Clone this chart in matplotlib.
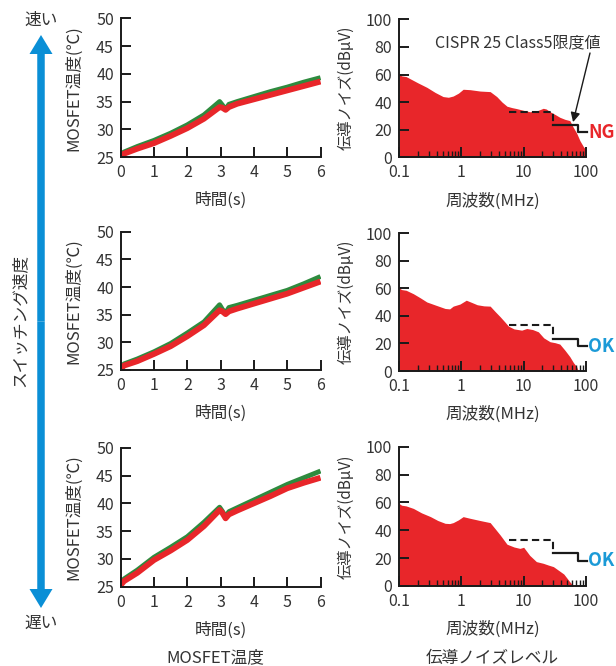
import numpy as np
import matplotlib
matplotlib.use('Agg')
import matplotlib.pyplot as plt
from matplotlib.patches import FancyArrow
from matplotlib.transforms import IdentityTransform

plt.rcParams['font.family'] = ['Noto Sans CJK JP', 'DejaVu Sans']

W, H = 616, 666
TXT = '#333333'
RED = '#e8262a'
GREEN = '#2e8b3e'
BLUE = '#1b9ad7'

# ---- data: MOSFET temperature (3 switching speeds, fast -> slow) ----
t = [0, 0.1, 0.5, 1, 1.5, 2, 2.5, 2.97, 3.05, 3.15, 3.25, 3.5, 4, 4.5, 5, 5.5, 6]

temp_red_fast = [25.2, 25.6, 26.5, 27.5, 28.8, 30.2, 31.9, 34.0, 33.9, 33.5, 34.0, 34.6, 35.4, 36.2, 37.0, 37.8, 38.6]
temp_green_fast = [25.4, 25.9, 26.9, 28.0, 29.3, 30.8, 32.6, 35.0, 34.4, 33.6, 34.5, 35.0, 35.9, 36.8, 37.6, 38.5, 39.3]

temp_red_mid = [25.2, 25.8, 26.6, 27.9, 29.3, 31.1, 33.1, 35.8, 35.6, 35.1, 35.6, 36.1, 37.0, 37.9, 38.8, 39.9, 41.0]
temp_green_mid = [25.4, 26.1, 27.0, 28.3, 29.8, 31.7, 33.7, 36.8, 36.0, 35.3, 36.3, 36.7, 37.6, 38.5, 39.4, 40.6, 41.9]

temp_red_slow = [25.3, 26.0, 27.5, 29.8, 31.5, 33.4, 35.9, 38.8, 38.3, 37.3, 38.0, 38.7, 40.0, 41.3, 42.7, 43.7, 44.6]
temp_green_slow = [25.5, 26.4, 28.0, 30.3, 32.1, 34.0, 36.6, 39.3, 38.6, 37.6, 38.5, 39.2, 40.6, 42.0, 43.4, 44.6, 45.8]

# ---- data: conducted noise spectra (MHz, dBuV) ----
f_fast = [0.1, 0.102, 0.11, 0.13, 0.15, 0.2, 0.28, 0.38, 0.51, 0.62, 0.74, 0.9, 1.07, 1.38, 2.0, 2.9,
          3.7, 4.5, 5.4, 6.5, 7.7, 10, 12.6, 16, 20.6, 23, 26.5, 32, 38, 46, 55, 62, 71, 80, 91, 100]
n_fast = [62, 60, 59, 58.5, 57, 54, 50.7, 47, 44, 43.5, 44.4, 46.5, 49.3, 49, 48, 47.6,
          44, 40, 37, 36, 35.3, 34, 33, 33.5, 35.5, 35, 33, 31, 29, 27.5, 26.6, 22, 17.4, 12, 7.7, 5.3]

f_mid = [0.1, 0.102, 0.11, 0.13, 0.17, 0.22, 0.28, 0.4, 0.55, 0.65, 0.74, 0.95, 1.2, 1.5, 1.8, 2.3, 2.9,
         3.5, 4.2, 5.0, 5.7, 7, 9.3, 11.2, 14, 17.2, 21, 26.5, 32, 38, 46, 55, 63, 71, 75]
n_mid = [63, 60, 59, 58.5, 56, 53, 50, 47.5, 45.3, 45, 47, 48.5, 51.3, 49.5, 48, 47.2, 47,
         43, 39.3, 35.5, 32.5, 30.5, 29.6, 30.8, 30, 28.4, 24, 21.2, 20.5, 19.5, 15, 10.4, 6, 3, 0]

f_slow = [0.1, 0.102, 0.11, 0.13, 0.17, 0.23, 0.32, 0.42, 0.55, 0.65, 0.74, 0.9, 1.07, 1.38, 2.0, 2.9,
          3.5, 4.2, 5.4, 7, 8.7, 10, 12.5, 16, 20.6, 25, 30, 37, 44, 55, 63]
n_slow = [62, 59, 58, 57.5, 55.7, 52.5, 49.8, 47, 45, 44.8, 45.5, 47.5, 49.8, 48.6, 47, 45.5,
          41, 36.6, 30, 28, 27, 27.8, 22, 17.5, 16.3, 15, 13.9, 11, 8.6, 3, 0]

# CISPR 25 Class5 limit
lim_dash_f = [5.9, 30, 30]
lim_dash_v = [33, 33, 23.5]
lim_solid_f = [30, 75, 75, 105]
lim_solid_v = [23.5, 23.5, 18, 18]

temps = [(temp_red_fast, temp_green_fast), (temp_red_mid, temp_green_mid), (temp_red_slow, temp_green_slow)]
spectra = [(f_fast, n_fast), (f_mid, n_mid), (f_slow, n_slow)]
verdicts = [('NG', RED), ('OK', BLUE), ('OK', BLUE)]

# axes placement in pixels: (top, bottom) of each row
rows_left = [(18.3, 157.0), (231.7, 370.0), (447.7, 586.7)]
rows_right = [(19.3, 157.3), (233.0, 371.0), (446.7, 586.0)]


def px_axes(fig, x0, x1, y0, y1):
    return fig.add_axes([x0 / W, 1 - y1 / H, (x1 - x0) / W, (y1 - y0) / H])


def style(ax):
    for s in ['top', 'right']:
        ax.spines[s].set_visible(False)
    for s in ['left', 'bottom']:
        ax.spines[s].set_linewidth(1.4)
        ax.spines[s].set_color('#1a1a1a')
    ax.tick_params(which='major', direction='in', length=7, width=1.4, color='#1a1a1a',
                   labelsize=11.5, labelcolor=TXT, pad=5)
    ax.tick_params(which='minor', direction='in', length=4, width=1.0, color='#1a1a1a')


fig = plt.figure(figsize=(W / 100, H / 100), dpi=100)

for i in range(3):
    # temperature panel
    top, bot = rows_left[i]
    ax = px_axes(fig, 120.7, 320.5, top, bot)
    red, green = temps[i]
    ax.plot(t, green, color=GREEN, lw=3.5, solid_capstyle='butt')
    ax.plot(t, red, color=RED, lw=4.2, solid_capstyle='butt')
    ax.set_xlim(0, 6)
    ax.set_ylim(25, 50)
    ax.set_xticks(range(7))
    ax.set_yticks([25, 30, 35, 40, 45, 50])
    style(ax)
    ax.set_xlabel('時間(s)', fontsize=12, color=TXT)
    ax.xaxis.set_label_coords(0.5, -35 / (bot - top))
    ax.set_ylabel('MOSFET温度(℃)', fontsize=12, color=TXT)
    ax.yaxis.set_label_coords(-38.5 / 200, 0.5)

    # noise panel
    top, bot = rows_right[i]
    ax = px_axes(fig, 399, 586, top, bot)
    f, n = spectra[i]
    ax.fill_between(f, n, 0, color=RED, lw=0)
    ax.plot(lim_dash_f, lim_dash_v, color='#1a1a1a', lw=1.5, ls=(0, (3.5, 2)))
    ax.plot(lim_solid_f, lim_solid_v, color='#1a1a1a', lw=1.6, clip_on=False)
    ax.set_xscale('log')
    ax.set_xlim(0.1, 100)
    ax.set_ylim(0, 100)
    ax.set_xticks([0.1, 1, 10, 100])
    ax.set_xticklabels(['0.1', '1', '10', '100'])
    ax.set_yticks([0, 20, 40, 60, 80, 100])
    style(ax)
    ax.set_xlabel('周波数(MHz)', fontsize=12, color=TXT)
    ax.xaxis.set_label_coords(0.5, -35 / (bot - top))
    ax.set_ylabel('伝導ノイズ(dBμV)', fontsize=11, color=TXT)
    ax.yaxis.set_label_coords(-44 / 187, 0.5)
    label, col = verdicts[i]
    ax.text(108, 18, label, color=col, fontsize=13, fontweight='bold',
            ha='left', va='center', clip_on=False)
    if i == 0:
        fig.text(435 / W, 1 - 43 / H, 'CISPR 25 Class5限度値', fontsize=11.5,
                 color=TXT, ha='left', va='center')
        ax.annotate('', xy=(62, 25.5), xycoords='data',
                    xytext=(590, H - 53), textcoords='figure pixels',
                    arrowprops=dict(arrowstyle='-|>', color='#1a1a1a', lw=1.0,
                                    mutation_scale=14, shrinkA=0, shrinkB=0))

# switching speed arrow
xc, yc = 41, H - 321.5
for dy in (321.5 - 35, -(608 - 321.5)):
    fig.add_artist(FancyArrow(xc, yc, 0, dy, width=7.5, head_width=23, head_length=19,
                              length_includes_head=True, color='#0a8fd6', lw=0,
                              transform=IdentityTransform()))
fig.text(41 / W, 1 - 20 / H, '速い', fontsize=12, color=TXT, ha='center', va='center')
fig.text(41 / W, 1 - 623 / H, '遅い', fontsize=12, color=TXT, ha='center', va='center')
fig.text(20.5 / W, 1 - 320 / H, 'スイッチング速度', fontsize=12, color=TXT,
         ha='center', va='center', rotation=90)

fig.text(215 / W, 1 - 658 / H, 'MOSFET温度', fontsize=12, color=TXT, ha='center', va='center')
fig.text(492 / W, 1 - 658 / H, '伝導ノイズレベル', fontsize=12, color=TXT, ha='center', va='center')

fig.savefig('out.png', dpi=100)
